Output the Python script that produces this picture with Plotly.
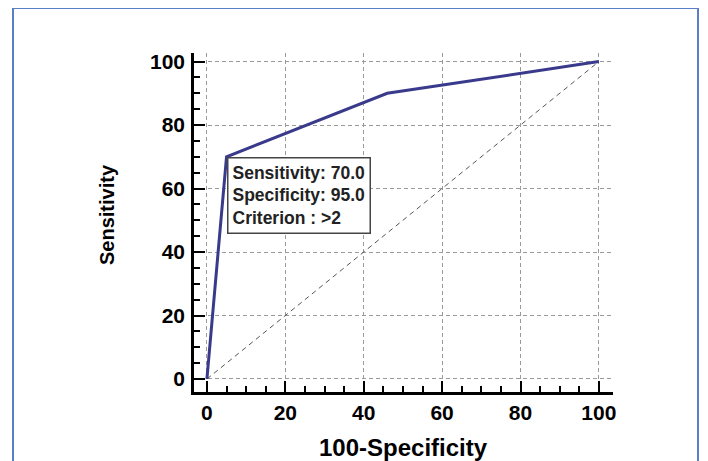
import plotly.graph_objects as go

# Data
fpr = [0, 5, 46, 100]          # 100-Specificity
tpr = [0, 70, 90, 100]         # Sensitivity
diag_x = [0, 100]
diag_y = [0, 100]
tick_vals = [0, 20, 40, 60, 80, 100]
tick_text = ["0", "20", "40", "60", "80", "100"]
box_text = "Sensitivity: 70.0<br>Specificity: 95.0<br>Criterion : >2"
box_point = (5, 70)

OFF = 8  # page body margin
W, H = 708 - OFF, 461 - OFF
L, T = 194 - OFF, 53 - OFF
R = W - (613 - OFF)
B = H - (392 - OFF)
pw = W - L - R
ph = H - T - B

def px_to_paper_x(px):
    return (px - OFF - L) / pw

def px_to_paper_y(py):
    return (H - B - (py - OFF)) / ph

font_family = "Arial, Liberation Sans, sans-serif"

fig = go.Figure()
fig.add_trace(go.Scatter(x=diag_x, y=diag_y, mode="lines",
                         line=dict(color="#555555", width=1, dash="5px,4px"),
                         hoverinfo="skip", showlegend=False))
fig.add_trace(go.Scatter(x=fpr, y=tpr, mode="lines",
                         line=dict(color="#3a3a8c", width=3),
                         showlegend=False))

axis_common = dict(
    tickvals=tick_vals, ticktext=tick_text,
    ticks="inside", ticklen=11, tickwidth=2, tickcolor="black",
    showline=True, linecolor="black", linewidth=2.5,
    showgrid=True, gridcolor="#9a9a9a", gridwidth=1, griddash="4px,3px",
    zeroline=False,
    tickfont=dict(family=font_family, size=21, color="black", weight="bold"),
    minor=dict(dtick=5, ticks="inside", ticklen=6, tickwidth=1.5,
               tickcolor="black", showgrid=False),
)

fig.update_xaxes(range=[-3.3, 103.6], ticklabelstandoff=0, **axis_common)
fig.update_yaxes(range=[-4.1, 102.7], ticklabelstandoff=2, **axis_common)

fig.add_annotation(x=box_point[0], y=box_point[1], xref="x", yref="y",
                   text=box_text, showarrow=False, xanchor="left", yanchor="top",
                   align="left", bgcolor="white", bordercolor="#444444",
                   borderwidth=1.5, borderpad=4,
                   font=dict(family=font_family, size=17.5, color="#222222", weight="bold"))

fig.add_annotation(x=0.5, y=px_to_paper_y(447), xref="paper", yref="paper",
                   text="100-Specificity", showarrow=False,
                   xanchor="center", yanchor="middle",
                   font=dict(family=font_family, size=24, color="black", weight="bold"))
fig.add_annotation(x=px_to_paper_x(107), y=px_to_paper_y(215), xref="paper", yref="paper",
                   text="Sensitivity", showarrow=False, textangle=-90,
                   xanchor="center", yanchor="middle",
                   font=dict(family=font_family, size=20, color="black", weight="bold"))

fig.add_shape(type="rect", xref="paper", yref="paper",
              x0=px_to_paper_x(13), x1=px_to_paper_x(698),
              y0=px_to_paper_y(520), y1=px_to_paper_y(8),
              line=dict(color="#5b7fc4", width=2), fillcolor="rgba(0,0,0,0)",
              layer="below")

fig.update_layout(width=W, height=H,
                  margin=dict(l=L, r=R, t=T, b=B),
                  paper_bgcolor="white", plot_bgcolor="white",
                  showlegend=False)

fig.write_html("out.html")
